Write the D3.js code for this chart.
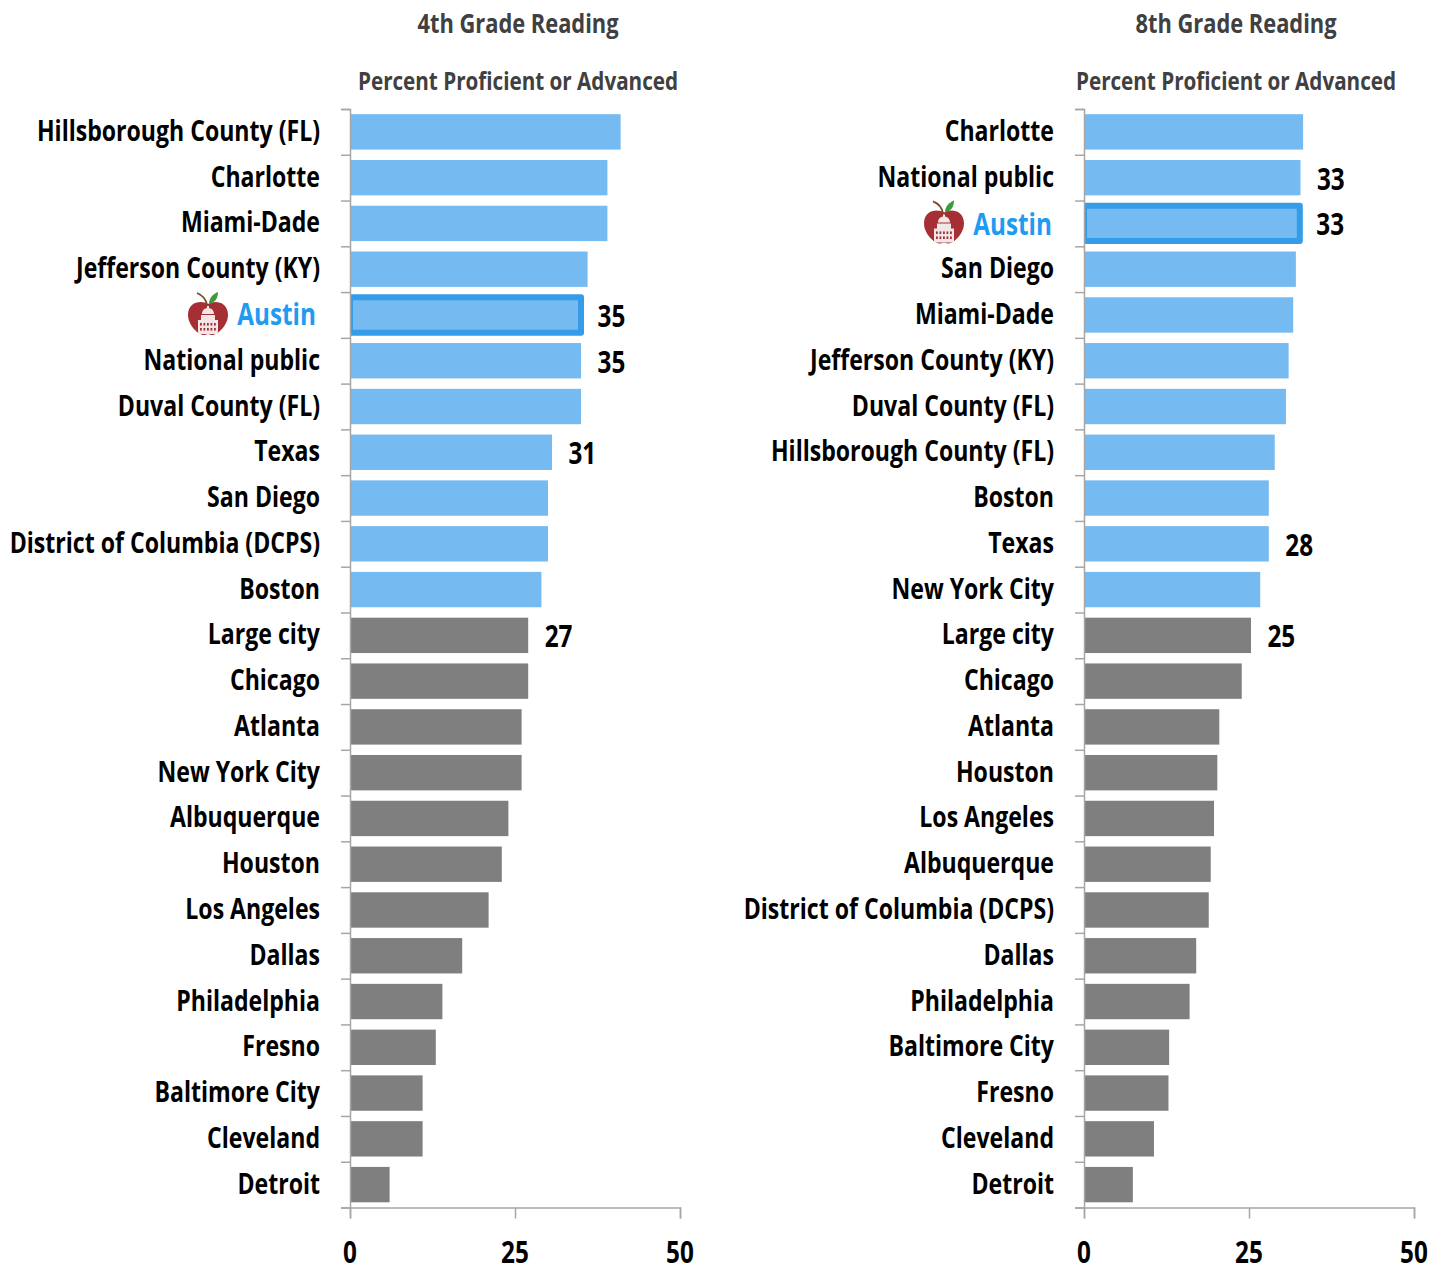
<!DOCTYPE html>
<html>
<head>
<meta charset="utf-8">
<script src="https://cdn.jsdelivr.net/npm/d3@7"></script>
<style>
  html, body { margin: 0; padding: 0; background: #fff; }
  svg { display: block; }
  text { font-family: "Open Sans", sans-serif; font-weight: 700; }
</style>
</head>
<body>
<div id="graph-holder"></div>
<script>
var grade4Names = ["Hillsborough County (FL)", "Charlotte", "Miami-Dade", "Jefferson County (KY)", "Austin", "National public", "Duval County (FL)", "Texas", "San Diego", "District of Columbia (DCPS)", "Boston", "Large city", "Chicago", "Atlanta", "New York City", "Albuquerque", "Houston", "Los Angeles", "Dallas", "Philadelphia", "Fresno", "Baltimore City", "Cleveland", "Detroit"];
var grade4Values = [41, 39, 39, 36, 35, 35, 35, 30.6, 30, 30, 29, 27, 27, 26, 26, 24, 23, 21, 17, 14, 13, 11, 11, 6];
var grade8Names = ["Charlotte", "National public", "Austin", "San Diego", "Miami-Dade", "Jefferson County (KY)", "Duval County (FL)", "Hillsborough County (FL)", "Boston", "Texas", "New York City", "Large city", "Chicago", "Atlanta", "Houston", "Los Angeles", "Albuquerque", "District of Columbia (DCPS)", "Dallas", "Philadelphia", "Baltimore City", "Fresno", "Cleveland", "Detroit"];
var grade8Values = [33.2, 32.8, 32.7, 32.1, 31.7, 31, 30.6, 28.9, 28, 28, 26.7, 25.3, 23.9, 20.5, 20.2, 19.7, 19.2, 18.9, 17, 16, 12.9, 12.8, 10.6, 7.4];
// printed labels, only on the benchmark rows
var grade4Labels = { "Austin": 35, "National public": 35, "Texas": 31, "Large city": 27 };
var grade8Labels = { "National public": 33, "Austin": 33, "Texas": 28, "Large city": 25 };
var grade4Blue = 11;
var grade8Blue = 11;
var xTicks = [0, 25, 50];

var squeeze = 0.81; // stands in for the condensed face, which is not installed

var svg = d3.select("#graph-holder")
  .append("svg")
  .attr("width", 1445)
  .attr("height", 1268);

function squeezedText(g, x, y, str, size, color, anchor) {
  return g.append("text")
    .attr("transform", "translate(" + x + "," + y + ") scale(" + squeeze + ",1)")
    .attr("text-anchor", anchor)
    .attr("font-size", size)
    .attr("fill", color)
    .text(str);
}

function drawApple(g, x, y) {
  var a = g.append("g").attr("transform", "translate(" + x + "," + y + ")");
  a.append("path")
    .attr("d", "M0,-11 C-6,-15 -20,-14 -20,0 C-20,10 -10,20 -4,20 C-2,20 -1,19 0,19 C1,19 2,20 4,20 C10,20 20,10 20,0 C20,-14 6,-15 0,-11 Z")
    .attr("fill", "#a52f35");
  a.append("path")
    .attr("d", "M-1,-10 C-2,-16 -6,-20 -11,-22")
    .attr("fill", "none").attr("stroke", "#7a4a2a").attr("stroke-width", 1.8);
  a.append("path")
    .attr("d", "M1,-11 C1,-17 5,-21 10,-23 C10,-17 7,-12 1,-11 Z")
    .attr("fill", "#3f9a3c");
  // capitol building
  a.append("path")
    .attr("d", "M-1,-9 h2 v3 h-2 Z M-6,-1 C-6,-5 -3,-7 0,-7 C3,-7 6,-5 6,-1 Z M-7,0 h14 v5 h-14 Z M-10,5 h20 v14 h-20 Z")
    .attr("fill", "#f3e6e6");
  // window rows
  [8, 13].forEach(function(wy) {
    d3.range(-8, 8, 3.5).forEach(function(wx) {
      a.append("rect")
        .attr("x", wx).attr("y", wy)
        .attr("width", 1.8).attr("height", 2.6)
        .attr("fill", "#a52f35");
    });
  });
}

function drawPanel(left, titleX, austinEnd, austinDy, appleOffset, title, names, values, labels, blueCount) {
  var margin = { top: 109, bottom: 1207.5 };
  var x = d3.scaleLinear().domain([0, 50]).range([left, left + 330]);
  var y = d3.scaleBand().domain(names).range([margin.top, margin.bottom]).paddingInner(0.227).paddingOuter(0.1135);
  var g = svg.append("g");

  squeezedText(g, titleX, 33, title, 27, "#404040", "middle");
  squeezedText(g, titleX, 90, "Percent Proficient or Advanced", 25.5, "#404040", "middle");

  // the Austin outline is cut off at the axis
  var clipId = "bars-" + left;
  svg.append("clipPath")
    .attr("id", clipId)
    .append("rect")
    .attr("x", x(0))
    .attr("y", 0)
    .attr("width", 400)
    .attr("height", 1268);

  // bars
  g.append("g")
    .attr("clip-path", "url(#" + clipId + ")")
    .selectAll(".bar")
    .data(names)
    .enter()
    .append("rect")
    .attr("class", "bar")
    .attr("x", x(0))
    .attr("y", function(d) { return y(d); })
    .attr("width", function(d, i) { return x(values[i]) - x(0); })
    .attr("height", y.bandwidth())
    .attr("fill", function(d, i) { return i < blueCount ? "#75baf0" : "#7f7f7f"; })
    .attr("stroke", function(d) { return d == "Austin" ? "#349ce8" : "none"; })
    .attr("stroke-width", function(d) { return d == "Austin" ? 6 : 0; })
    .attr("stroke-linejoin", "round");

  // left axis, one tick per band edge
  var tickValues = d3.range(names.length + 1);
  var edge = d3.scaleLinear().domain([0, names.length]).range([margin.top, margin.bottom]);
  g.append("g")
    .attr("transform", "translate(" + x(0) + ",0)")
    .call(d3.axisLeft(edge).tickValues(tickValues).tickSize(9).tickFormat(""))
    .call(function(s) {
      s.selectAll("path, line").attr("stroke", "#a6a6a6").attr("stroke-width", 1.5);
    });

  // bottom axis
  var axisBottom = g.append("g")
    .attr("transform", "translate(0," + margin.bottom + ")")
    .call(d3.axisBottom(x).tickValues(xTicks).tickSize(11).tickFormat(""));
  axisBottom.selectAll("path, line").attr("stroke", "#a6a6a6").attr("stroke-width", 1.5);
  xTicks.forEach(function(t) {
    squeezedText(g, x(t), 1263, t, 30, "#000", "middle");
  });

  // category names
  names.forEach(function(name, i) {
    var mid = y(name) + y.bandwidth() / 2;
    var cy = mid + 9;
    if (name == "Austin") {
      squeezedText(g, x(0) - austinEnd, cy + austinDy, name, 30, "#1f9bf0", "end");
      drawApple(g, x(0) - appleOffset, mid);
    } else {
      squeezedText(g, x(0) - 30, cy, name, 28.5, "#000", "end");
    }
    if (labels[name] !== undefined) {
      squeezedText(g, x(values[i]) + 16.5, cy + 3, labels[name], 30, "#000", "start");
    }
  });
}

drawPanel(350, 518, 34, 1, 142, "4th Grade Reading", grade4Names, grade4Values, grade4Labels, grade4Blue);
drawPanel(1084, 1236, 32, 3, 140, "8th Grade Reading", grade8Names, grade8Values, grade8Labels, grade8Blue);
</script>
</body>
</html>
